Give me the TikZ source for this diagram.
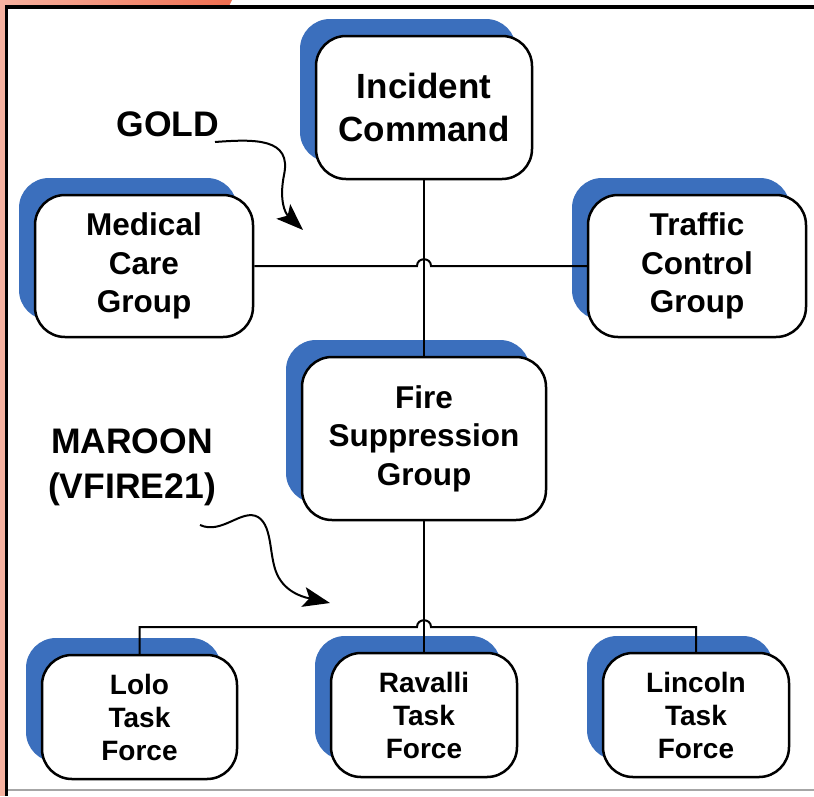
\documentclass[tikz,border=0pt]{standalone}
\usepackage{fontspec}
\setmainfont{Liberation Sans}
\usetikzlibrary{shadows,arrows.meta}
\definecolor{sblue}{RGB}{59,111,189}
\definecolor{salmonL}{RGB}{247,178,160}
\definecolor{salmonR}{RGB}{240,110,80}
\begin{document}
\begin{tikzpicture}[x=1pt,y=-1pt,
  box/.style={draw=black, line width=2.5pt, fill=white, rounded corners=30pt,
    align=center, inner sep=0pt,
    general shadow={fill=sblue, shadow xshift=-16pt, shadow yshift=17pt}},
  bigtxt/.style={font=\bfseries\fontsize{35}{43}\selectfont},
  midtxt/.style={font=\bfseries\fontsize{31.5}{38.5}\selectfont},
  smalltxt/.style={font=\bfseries\fontsize{28}{33}\selectfont},
  lbl/.style={align=center, inner sep=0pt, font=\bfseries\fontsize{35.5}{45}\selectfont},
  conn/.style={draw=black, line width=2pt},
  curly/.style={draw=black, line width=2pt, -{Stealth[length=27pt,width=20pt,inset=6pt]}}
]
\useasboundingbox (0,0) rectangle (814,796);
\fill[white] (0,0) rectangle (814,796);
% decorative frame
\shade[left color=salmonL, right color=salmonR] (0,0) -- (232,0) -- (229,6) -- (0,6) -- cycle;
\fill[salmonL] (0,0) rectangle (5,796);
\draw[gray!70, line width=2.5pt] (8,790) -- (814,790);
\draw[black, line width=3.5pt] (6.5,796) -- (6.5,7) -- (814,7);

% boxes
\node[box, bigtxt, minimum width=216pt, minimum height=143pt] (ic) at (424,107.5) {Incident\\Command};
\node[box, midtxt, minimum width=218pt, minimum height=142pt] (med) at (144,266) {Medical\\Care\\Group};
\node[box, midtxt, minimum width=218pt, minimum height=142pt] (tcg) at (697,266) {Traffic\\Control\\Group};
\node[box, midtxt, minimum width=244pt, minimum height=163pt] (fire) at (424,438.5) {Fire\\Suppression\\Group};
\node[box, smalltxt, minimum width=195pt, minimum height=124pt] (lolo) at (139.5,717) {Lolo\\Task\\Force};
\node[box, smalltxt, minimum width=186pt, minimum height=124pt] (rav) at (424,715) {Ravalli\\Task\\Force};
\node[box, smalltxt, minimum width=186pt, minimum height=124pt] (lin) at (696,715) {Lincoln\\Task\\Force};

% labels
\node[lbl] (gold) at (168,124) {GOLD};
\node[lbl] (maroon) at (132,467) {MAROON\\(VFIRE21)};

% connectors
\draw[conn] (ic.south) -- (fire.north);
\coordinate (h1a) at (417,266);
\coordinate (h1b) at (431,266);
\draw[conn] (med.east) -- (h1a) .. controls (417,257) and (431,257) .. (h1b) -- (tcg.west);

\draw[conn] (fire.south) -- (rav.north);
\coordinate (jl) at (139.5,627);
\coordinate (jr) at (696,627);
\coordinate (h2a) at (417,627);
\coordinate (h2b) at (431,627);
\draw[conn] (lolo.north) -- (jl) -- (h2a) .. controls (417,618) and (431,618) .. (h2b) -- (jr) -- (lin.north);

% curvy arrows
\coordinate (g0) at (215,142);
\coordinate (g1) at (303,230);
\draw[curly] (g0) .. controls (255,139) and (292,138) .. (284,175) .. controls (279,200) and (285,213) .. (g1);
\coordinate (m0) at (200,525);
\coordinate (m1) at (330,603);
\draw[curly] (m0) .. controls (222,535) and (242,508) .. (258,517) .. controls (274,527) and (268,560) .. (279,578) .. controls (289,595) and (308,598) .. (m1);
\end{tikzpicture}
\end{document}
